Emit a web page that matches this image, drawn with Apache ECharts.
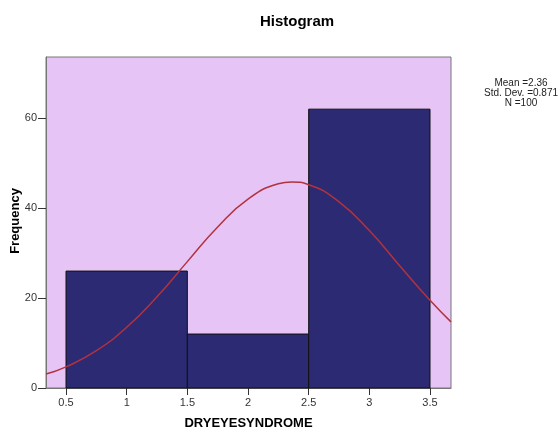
<!DOCTYPE html>
<html>
<head>
<meta charset="utf-8">
<script src="https://cdn.jsdelivr.net/npm/echarts@6/dist/echarts.min.js"></script>
<style>html,body{margin:0;padding:0;background:#fff}#c{width:560px;height:430px}</style>
</head>
<body>
<div id="c"></div>
<script>
// Histogram bins
const binStart = [0.5, 1.5, 2.5];
const binEnd = [1.5, 2.5, 3.5];
const frequency = [26, 12, 62];
// Normal curve
const curveX = [0.335, 0.5, 0.75, 1.0, 1.25, 1.5, 1.75, 2.0, 2.25, 2.36, 2.5, 2.75, 3.0, 3.25, 3.5, 3.673];
const curveY = [3.1, 4.7, 8.3, 13.5, 20.3, 28.1, 35.8, 42.0, 45.4, 45.8, 45.2, 41.4, 35.0, 27.2, 19.5, 14.7];
// Tick labels
const xTicks = [0.5, 1, 1.5, 2, 2.5, 3, 3.5];
const yTicks = [0, 20, 40, 60];
const statsLines = ['Mean =2.36', 'Std. Dev. =0.871', 'N =100'];
const yTitle = 'Frequency';

const chart = echarts.init(document.getElementById('c'));
const font = 'Liberation Sans, Arial, sans-serif';
chart.setOption({
  backgroundColor: '#ffffff',
  animation: false,
  title: {
    text: 'Histogram', left: 292, top: 9, textAlign: 'center',
    textStyle: { fontFamily: font, fontSize: 15, fontWeight: 'bold', color: '#000' }
  },
  graphic: [{
    type: 'text', x: 521, y: 78,
    style: { text: statsLines.join('\n'), fontFamily: font, fontSize: 10, lineHeight: 10, fill: '#222', align: 'center', verticalAlign: 'top' }
  }, {
    type: 'text', x: 15, y: 221, rotation: Math.PI / 2,
    style: { text: yTitle, fontFamily: font, fontSize: 13, fontWeight: 'bold', fill: '#000', align: 'center', verticalAlign: 'middle' }
  }],
  grid: {
    left: 46, top: 57, width: 405, height: 331, show: true,
    containLabel: false, outerBoundsMode: 'none',
    backgroundColor: '#E6C4F6', borderColor: '#777', borderWidth: 1
  },
  xAxis: {
    type: 'value', min: 0.335, max: 3.673,
    name: 'DRYEYESYNDROME', nameLocation: 'middle', nameGap: 29,
    nameTextStyle: { fontFamily: font, fontSize: 13, fontWeight: 'bold', color: '#000' },
    axisLine: { show: true, lineStyle: { color: '#777' } },
    axisTick: { show: true, length: 7, customValues: xTicks, lineStyle: { color: '#333' } },
    axisLabel: { customValues: xTicks, fontFamily: font, fontSize: 11, color: '#333', margin: 9 },
    splitLine: { show: false }
  },
  yAxis: {
    type: 'value', min: 0, max: 73.6,
    axisLine: { show: true, lineStyle: { color: '#777' } },
    axisTick: { show: true, length: 8, customValues: yTicks, lineStyle: { color: '#333' } },
    axisLabel: { customValues: yTicks, fontFamily: font, fontSize: 11, color: '#333', margin: 9 },
    splitLine: { show: false }
  },
  series: [{
    type: 'custom',
    data: frequency.map((f, i) => [binStart[i], binEnd[i], f]),
    renderItem: function (params, api) {
      const p1 = api.coord([api.value(0), api.value(2)]);
      const p2 = api.coord([api.value(1), 0]);
      return {
        type: 'rect',
        shape: { x: p1[0], y: p1[1], width: p2[0] - p1[0], height: p2[1] - p1[1] },
        style: { fill: '#2B2A73', stroke: '#111', lineWidth: 1 }
      };
    },
    encode: { x: [0, 1], y: 2 },
    z: 2
  }, {
    type: 'line',
    data: curveX.map((x, i) => [x, curveY[i]]),
    smooth: true, showSymbol: false, symbol: 'none',
    lineStyle: { color: '#B3323E', width: 1.5 },
    z: 3
  }]
});
</script>
</body>
</html>
